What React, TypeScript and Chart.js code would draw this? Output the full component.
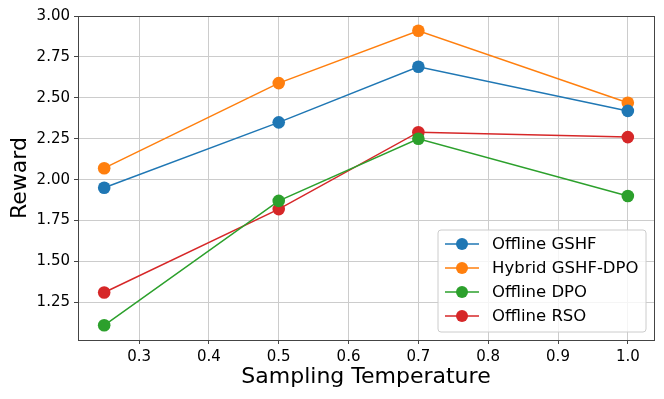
import React, { useEffect, useRef } from "react";
import { Chart, registerables } from "chart.js";

Chart.register(...registerables);

const temperatures = [0.25, 0.5, 0.7, 1.0];
const offlineGSHF = [1.95, 2.35, 2.69, 2.42];
const hybridGSHFDPO = [2.07, 2.59, 2.91, 2.47];
const offlineDPO = [1.11, 1.87, 2.25, 1.9];
const offlineRSO = [1.31, 1.82, 2.29, 2.26];
const seriesLabels = ["Offline GSHF", "Hybrid GSHF-DPO", "Offline DPO", "Offline RSO"];
const seriesColors = ["#1f77b4", "#ff7f0e", "#2ca02c", "#d62728"];
const xTicks = [0.3, 0.4, 0.5, 0.6, 0.7, 0.8, 0.9, 1.0];
const yTicks = [1.25, 1.5, 1.75, 2.0, 2.25, 2.5, 2.75, 3.0];

const FONT = "'DejaVu Sans', sans-serif";

const framePlugin = {
  id: "frame",
  afterDatasetsDraw(chart: any) {
    const { ctx, chartArea } = chart;
    ctx.save();
    ctx.strokeStyle = "#444444";
    ctx.lineWidth = 1;
    ctx.strokeRect(
      Math.round(chartArea.left) + 0.5,
      Math.round(chartArea.top) + 0.5,
      Math.round(chartArea.right - chartArea.left),
      Math.round(chartArea.bottom - chartArea.top)
    );
    ctx.restore();
  },
};

const legendPlugin = {
  id: "boxLegend",
  afterDraw(chart: any) {
    const { ctx, chartArea } = chart;
    const w = 208;
    const h = 102;
    const x = chartArea.right - 8 - w;
    const y = chartArea.bottom - 8 - h;
    ctx.save();
    ctx.beginPath();
    const r = 3;
    ctx.moveTo(x + r, y);
    ctx.lineTo(x + w - r, y);
    ctx.quadraticCurveTo(x + w, y, x + w, y + r);
    ctx.lineTo(x + w, y + h - r);
    ctx.quadraticCurveTo(x + w, y + h, x + w - r, y + h);
    ctx.lineTo(x + r, y + h);
    ctx.quadraticCurveTo(x, y + h, x, y + h - r);
    ctx.lineTo(x, y + r);
    ctx.quadraticCurveTo(x, y, x + r, y);
    ctx.closePath();
    ctx.fillStyle = "rgba(255,255,255,0.8)";
    ctx.fill();
    ctx.strokeStyle = "#cccccc";
    ctx.lineWidth = 1;
    ctx.stroke();
    chart.data.datasets.forEach((ds: any, i: number) => {
      const cy = y + 14 + i * 24;
      ctx.strokeStyle = ds.borderColor;
      ctx.lineWidth = 1.5;
      ctx.beginPath();
      ctx.moveTo(x + 7, cy);
      ctx.lineTo(x + 41, cy);
      ctx.stroke();
      ctx.fillStyle = ds.backgroundColor;
      ctx.beginPath();
      ctx.arc(x + 24, cy, 6, 0, Math.PI * 2);
      ctx.fill();
      ctx.fillStyle = "#000";
      ctx.font = `16.5px ${FONT}`;
      ctx.textBaseline = "middle";
      ctx.textAlign = "left";
      ctx.fillText(ds.label, x + 54, cy + 1);
    });
    ctx.restore();
  },
};

export default function App() {
  const ref = useRef<HTMLCanvasElement>(null);
  useEffect(() => {
    if (!ref.current) return;
    const series = [offlineGSHF, hybridGSHFDPO, offlineDPO, offlineRSO];
    const chart = new Chart(ref.current, {
      type: "line",
      data: {
        datasets: series.map((vals, i) => ({
          label: seriesLabels[i],
          data: temperatures.map((t, j) => ({ x: t, y: vals[j] })),
          borderColor: seriesColors[i],
          backgroundColor: seriesColors[i],
          pointBackgroundColor: seriesColors[i],
          pointBorderColor: seriesColors[i],
          pointRadius: 6.3,
          pointBorderWidth: 0,
          borderWidth: 1.5,
          tension: 0,
        })),
      },
      options: {
        responsive: false,
        animation: false,
        layout: { padding: { top: 16, right: 10, left: 0, bottom: 0 } },
        plugins: {
          legend: { display: false },
          tooltip: { enabled: false },
        },
        scales: {
          x: {
            type: "linear",
            min: 0.2125,
            max: 1.0375,
            afterBuildTicks: (s: any) => {
              s.ticks = xTicks.map((v) => ({ value: v }));
            },
            afterFit: (s: any) => {
              s.height = 59;
            },
            ticks: {
              callback: (v: any) => Number(v).toFixed(1),
              font: { family: FONT, size: 15 },
              color: "#000",
              padding: 4,
              maxRotation: 0,
            },
            grid: {
              color: "#cccccc",
              lineWidth: 1,
              tickColor: "#444",
              tickLength: 4,
            },
            border: { display: false },
            title: {
              display: true,
              text: "Sampling Temperature",
              font: { family: FONT, size: 22 },
              color: "#000",
              padding: { top: 2, bottom: 9 },
            },
          },
          y: {
            type: "linear",
            min: 1.02,
            max: 3.0,
            afterBuildTicks: (s: any) => {
              s.ticks = yTicks.map((v) => ({ value: v }));
            },
            afterFit: (s: any) => {
              s.width = 78;
            },
            ticks: {
              callback: (v: any) => Number(v).toFixed(2),
              font: { family: FONT, size: 15 },
              color: "#000",
              padding: 4,
            },
            grid: {
              color: "#cccccc",
              lineWidth: 1,
              tickColor: "#444",
              tickLength: 4,
            },
            border: { display: false },
            title: {
              display: true,
              text: "Reward",
              font: { family: FONT, size: 22 },
              color: "#000",
              padding: { top: 7, bottom: 2 },
            },
          },
        },
      },
      plugins: [framePlugin, legendPlugin],
    } as any);
    return () => chart.destroy();
  }, []);
  return (
    <div style={{ position: "fixed", left: 0, top: 0, width: 664, height: 399, background: "#fff" }}>
      <canvas ref={ref} width={664} height={399} />
    </div>
  );
}
